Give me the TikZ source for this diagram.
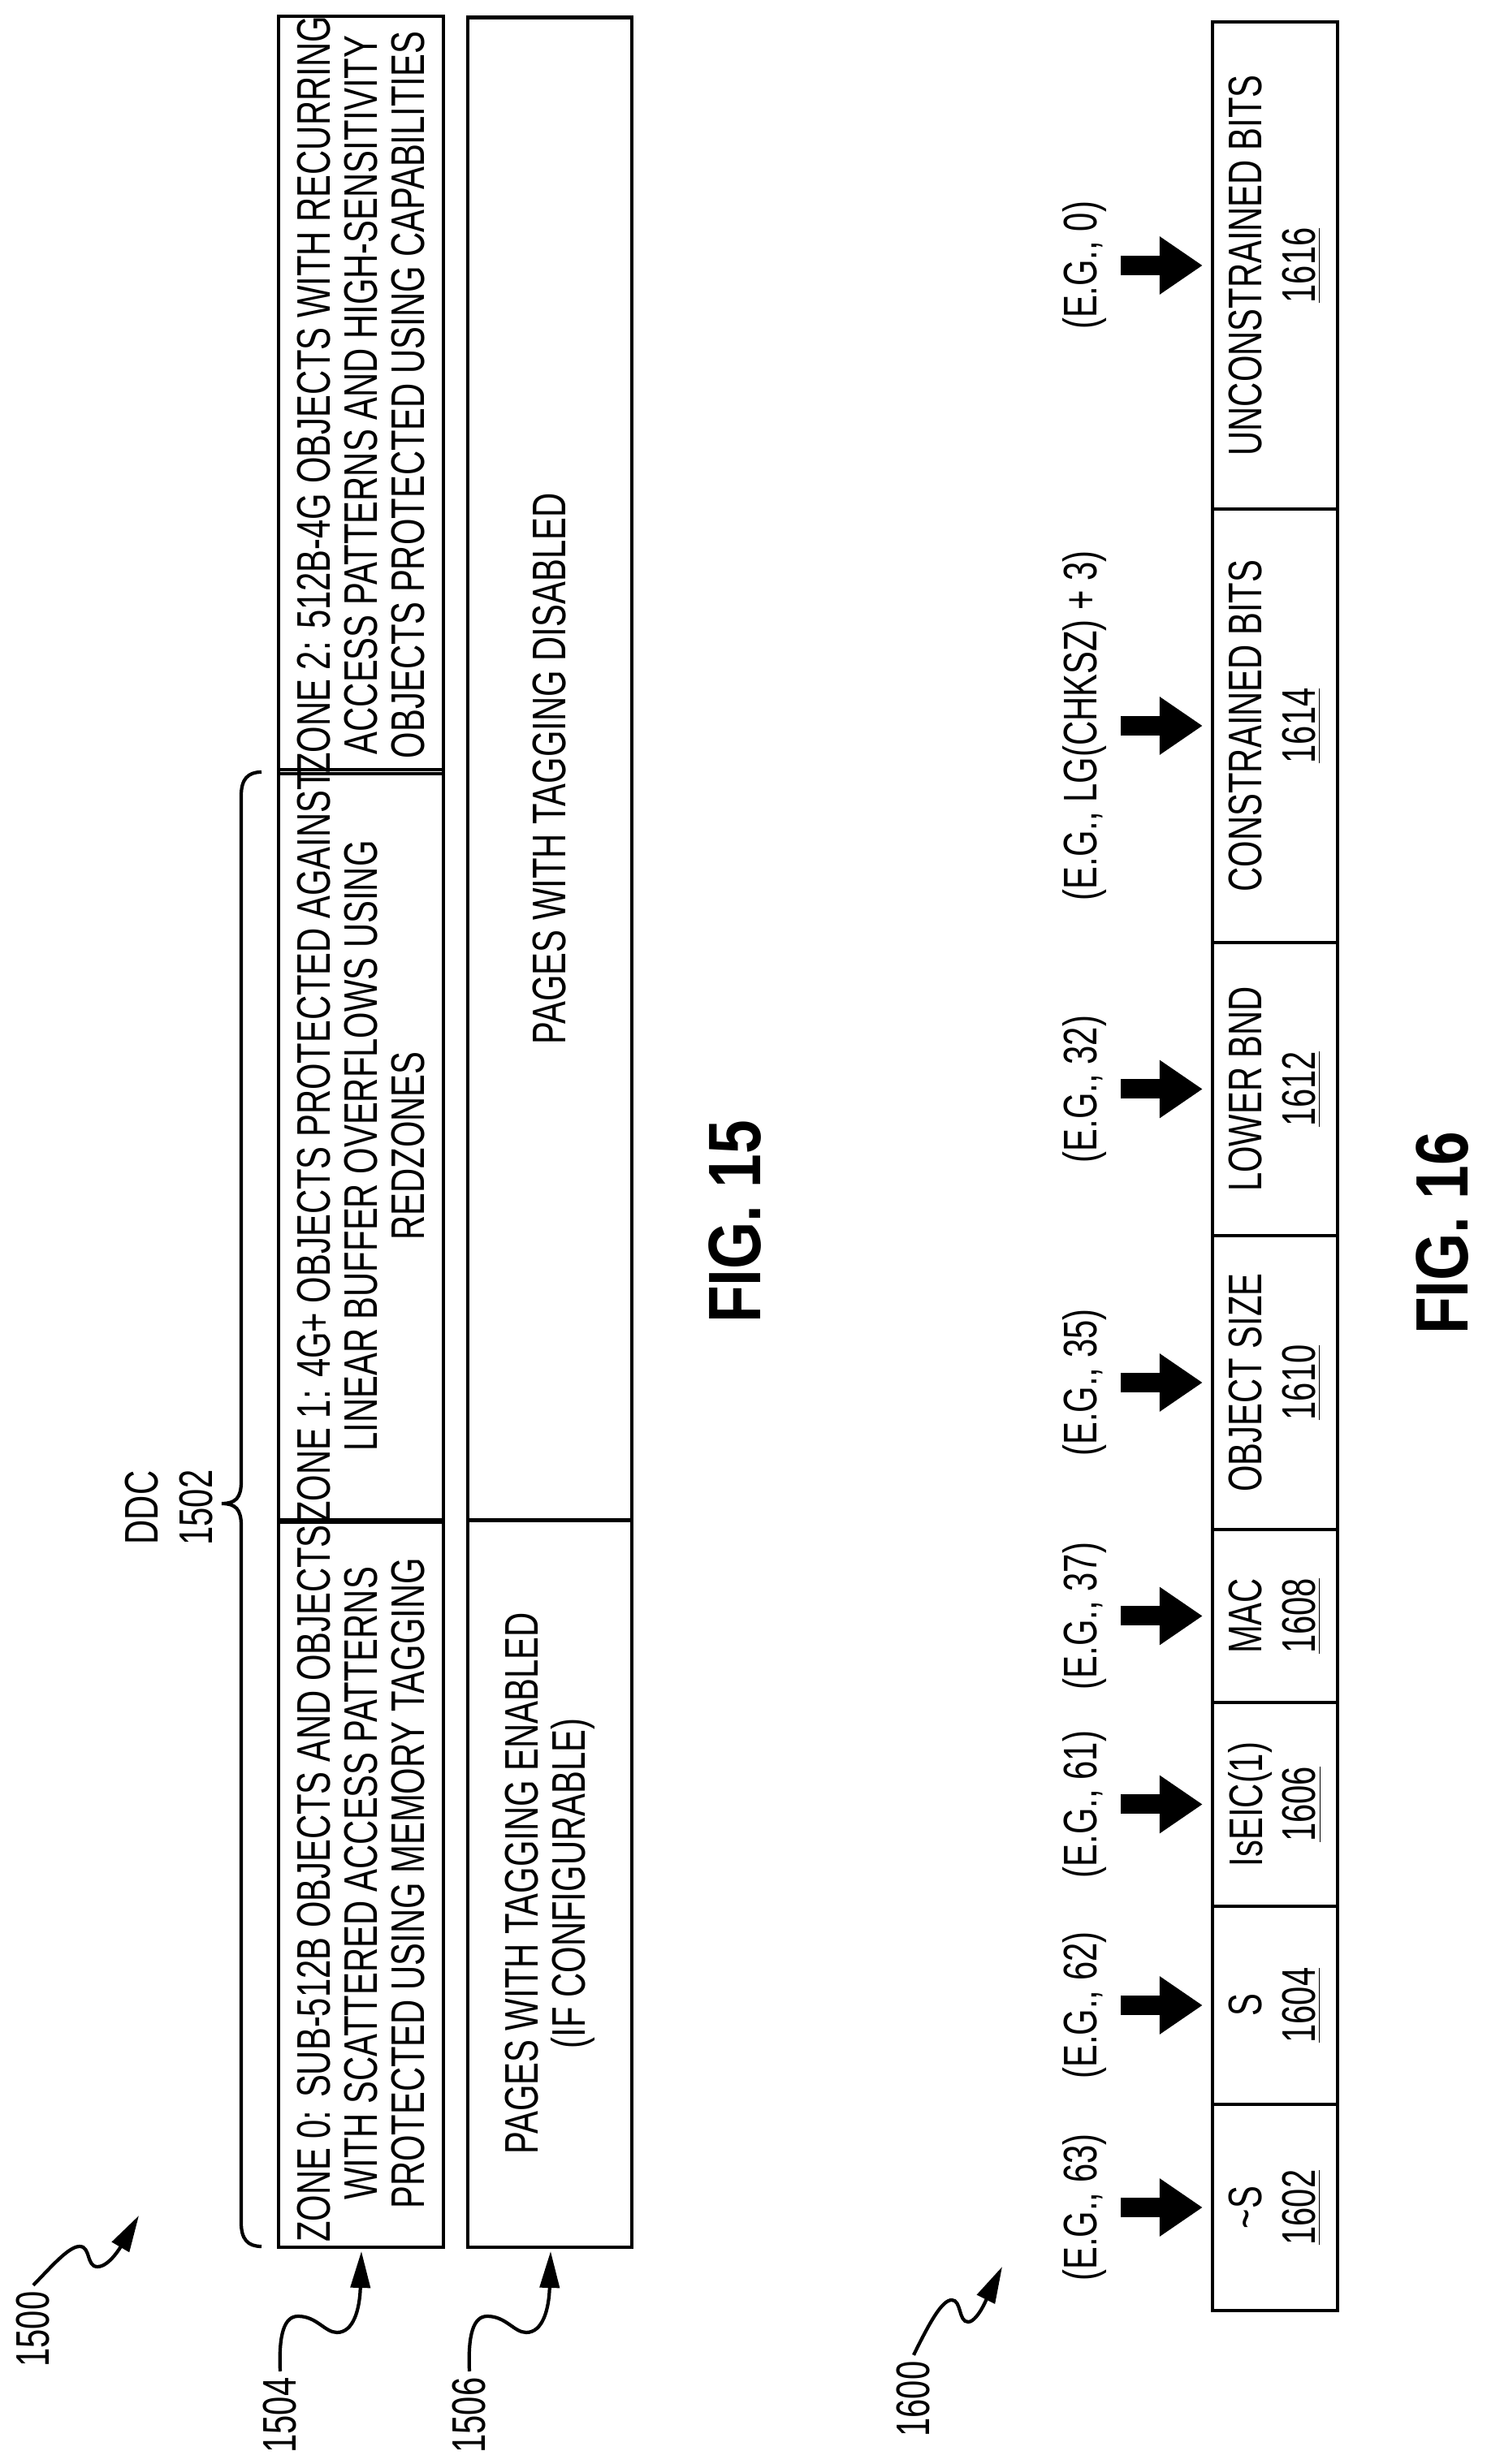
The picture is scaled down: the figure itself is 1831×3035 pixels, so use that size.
\documentclass[tikz,border=0pt]{standalone}
\usepackage{fontspec}
\setmainfont{Liberation Sans}
\newfontfamily\narrowfont[FakeStretch=0.72]{Liberation Sans}
\newfontfamily\figfont[FakeStretch=0.82]{Liberation Sans Bold}
\usetikzlibrary{arrows.meta}

\tikzstyle{zone} = [draw, line width=1.2pt, rectangle, rotate=90, align=center, inner sep=0pt, minimum height=2.03cm, font=\narrowfont\fontsize{16.5pt}{16.5pt}\selectfont]
\tikzstyle{cell} = [draw, line width=1.2pt, rectangle, rotate=90, align=center, inner sep=0pt, minimum height=1.54cm, font=\narrowfont\fontsize{16.5pt}{18.5pt}\selectfont]
\tikzstyle{lbl} = [rotate=90, align=center, inner sep=2pt, font=\narrowfont\fontsize{16.5pt}{19pt}\selectfont]
\tikzstyle{figlbl} = [rotate=90, inner sep=0pt, font=\figfont\fontsize{26pt}{26pt}\selectfont]
\tikzstyle{lead} = [draw, line width=1.2pt, -{Triangle[length=0.45cm, width=0.24cm]}]
\tikzstyle{bigarrow} = [draw, line width=0.24cm, -{Triangle[length=0.53cm, width=0.68cm]}, shorten <=0.1cm, shorten >=0.1cm]

\begin{document}
\begin{tikzpicture}[x=0.01cm, y=0.01cm]
	\useasboundingbox (0,0) rectangle (1831,3035);

	% FIG. 15
	\node [zone, minimum width=8.95cm] (zone0) at (444.5,715) {ZONE 0: SUB-512B OBJECTS AND OBJECTS\\WITH SCATTERED ACCESS PATTERNS\\PROTECTED USING MEMORY TAGGING};
	\node [zone, minimum width=9.21cm] (zone1) at (444.5,1623.5) {ZONE 1: 4G+ OBJECTS PROTECTED AGAINST\\LINEAR BUFFER OVERFLOWS USING\\REDZONES};
	\node [zone, minimum width=9.29cm] (zone2) at (444.5,2548.5) {ZONE 2: 512B-4G OBJECTS WITH RECURRING\\ACCESS PATTERNS AND HIGH-SENSITIVITY\\OBJECTS PROTECTED USING CAPABILITIES};
	\node [zone, minimum width=8.95cm, minimum height=2.02cm] (pageson) at (677,715) {PAGES WITH TAGGING ENABLED\\(IF CONFIGURABLE)};
	\node [zone, minimum width=18.5cm, minimum height=2.02cm] (pagesoff) at (677,2088) {PAGES WITH TAGGING DISABLED};

	\draw [line width=1.2pt] (322,2084) .. controls (305,2084) and (297,2075) .. (297,2055) -- (297,1210) .. controls (297,1190) and (290,1183) .. (273,1183) .. controls (290,1183) and (297,1176) .. (297,1156) -- (297,297) .. controls (297,277) and (305,268) .. (322,268);
	\node [lbl] (ddc) at (208,1178) {DDC\\1502};

	\node [lbl] (l1500) at (41,166) {1500};
	\node [lbl] (l1504) at (345,60) {1504};
	\node [lbl] (l1506) at (578,60) {1506};
	\coordinate (t1500) at (171,306);
	\coordinate (t1504) at (445,262);
	\coordinate (t1506) at (678,262);
	\draw [lead] (l1500.east) .. controls (65,245) and (85,268) .. (98,268) .. controls (112,268) and (106,243) .. (120,243) .. controls (135,243) and (150,270) .. (t1500);
	\draw [lead] (l1504.east) .. controls (343,160) and (350,182) .. (367,182) .. controls (390,182) and (400,162) .. (415,162) .. controls (435,162) and (443,190) .. (t1504);
	\draw [lead] (l1506.east) .. controls (576,160) and (583,182) .. (600,182) .. controls (623,182) and (633,162) .. (648,162) .. controls (668,162) and (676,190) .. (t1506);

	\node [figlbl] (fig15) at (905,1530) {FIG. 15};

	% FIG. 16
	\node [cell, minimum width=2.54cm] (c1602) at (1570,316) {\textasciitilde S\\\underline{1602}};
	\node [cell, minimum width=2.44cm] (c1604) at (1570,565) {S\\\underline{1604}};
	\node [cell, minimum width=2.51cm] (c1606) at (1570,812.5) {IsEIC(1)\\\underline{1606}};
	\node [cell, minimum width=2.13cm] (c1608) at (1570,1044.5) {MAC\\\underline{1608}};
	\node [cell, minimum width=3.62cm] (c1610) at (1570,1332) {OBJECT SIZE\\\underline{1610}};
	\node [cell, minimum width=3.61cm] (c1612) at (1570,1693.5) {LOWER BND\\\underline{1612}};
	\node [cell, minimum width=5.34cm] (c1614) at (1570,2141) {CONSTRAINED BITS\\\underline{1614}};
	\node [cell, minimum width=6.00cm] (c1616) at (1570,2708) {UNCONSTRAINED BITS\\\underline{1616}};

	\node [lbl] (e1602) at (1335,316) {(E.G., 63)};
	\node [lbl] (e1604) at (1335,565) {(E.G., 62)};
	\node [lbl] (e1606) at (1335,812.5) {(E.G., 61)};
	\node [lbl] (e1608) at (1335,1044.5) {(E.G., 37)};
	\node [lbl] (e1610) at (1335,1332) {(E.G., 35)};
	\node [lbl] (e1612) at (1335,1693.5) {(E.G., 32)};
	\node [lbl] (e1614) at (1335,2141) {(E.G., LG(CHKSZ) + 3)};
	\node [lbl] (e1616) at (1335,2708) {(E.G., 0)};
	\foreach \f in {1602,1604,1606,1608,1610,1612,1614,1616}
		\draw [bigarrow] (e\f.south) -- (c\f.north);

	\node [lbl] (l1600) at (1125,80) {1600};
	\coordinate (t1600) at (1234,243);
	\draw [lead] (l1600.east) .. controls (1145,175) and (1160,202) .. (1172,202) .. controls (1184,202) and (1180,175) .. (1192,175) .. controls (1205,175) and (1220,215) .. (t1600);

	\node [figlbl] (fig16) at (1776,1516) {FIG. 16};
\end{tikzpicture}
\end{document}
